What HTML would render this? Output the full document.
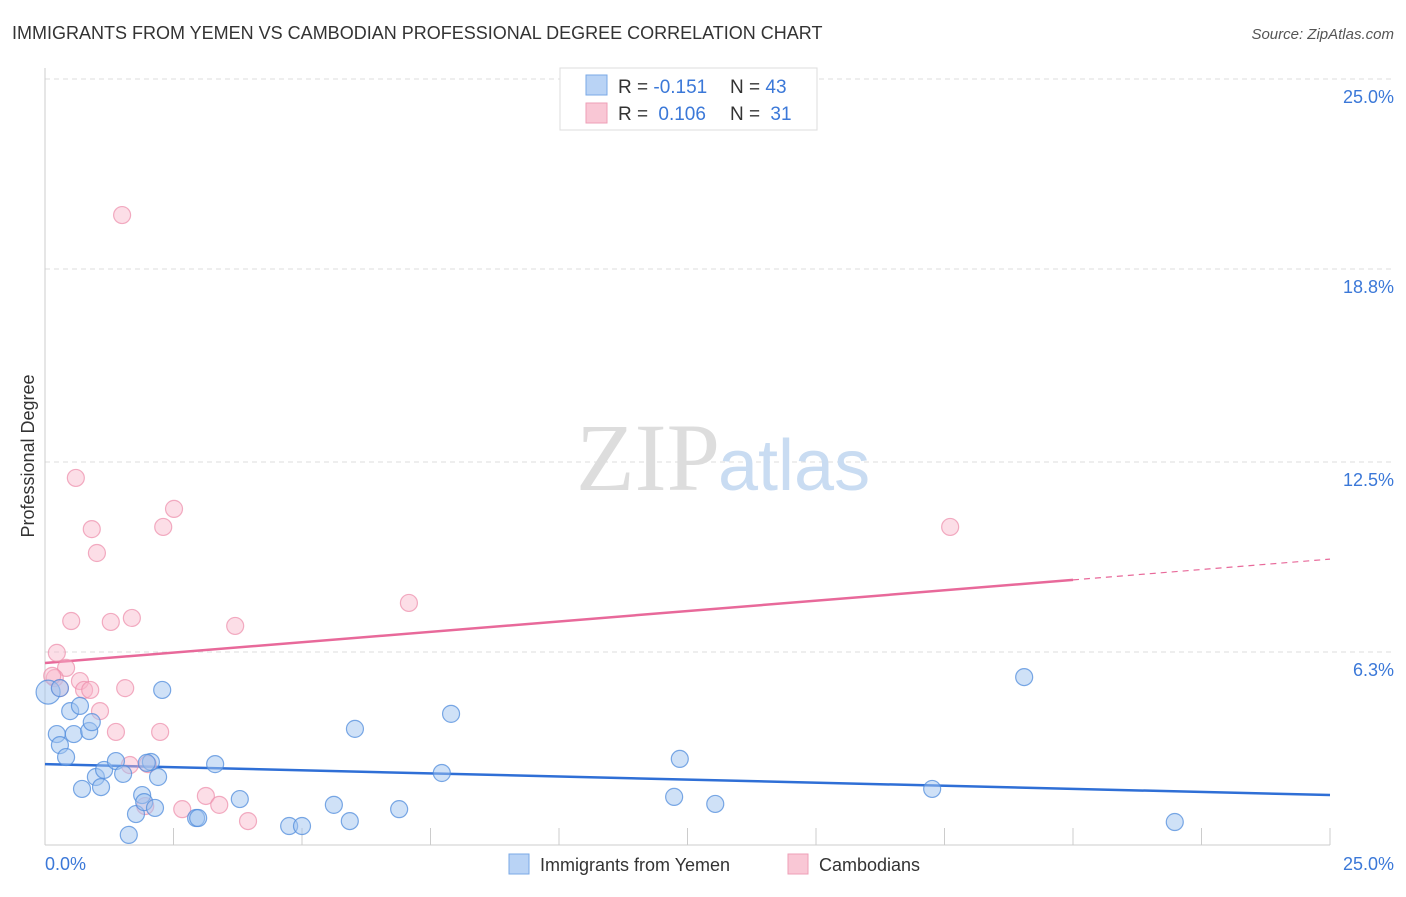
<!DOCTYPE html>
<html><head><meta charset="utf-8">
<style>
body{margin:0;background:#fff;font-family:"Liberation Sans",sans-serif;}
svg text{font-family:"Liberation Sans",sans-serif;}
</style></head>
<body>
<svg id="chart" width="1406" height="892" viewBox="0 0 1406 892" xmlns="http://www.w3.org/2000/svg">
<text x="12" y="39" font-size="18" fill="#333">IMMIGRANTS FROM YEMEN VS CAMBODIAN PROFESSIONAL DEGREE CORRELATION CHART</text>
<text x="1394" y="39" font-size="15" fill="#555" font-style="italic" text-anchor="end">Source: ZipAtlas.com</text>
<g id="grid"></g>
<g id="axes"></g>
<text x="720" y="490" font-size="96" fill="#ddd" text-anchor="end" font-family="Liberation Serif" style="font-family:'Liberation Serif',serif">ZIP</text>
<text x="718" y="490" font-size="72" fill="#c9dcf2">atlas</text>
<g id="trends"></g>
<g id="points"></g>
<text transform="translate(34,456) rotate(-90)" font-size="18" fill="#333" text-anchor="middle">Professional Degree</text>
<text x="45" y="870" font-size="18" fill="#3b78d8">0.0%</text>
<text x="1394" y="870" font-size="18" fill="#3b78d8" text-anchor="end">25.0%</text>
<g>
<rect x="560" y="68" width="257" height="62" fill="#fff" stroke="#ddd"/>
<rect x="586" y="75" width="21" height="20" fill="#b9d3f5" stroke="#7aa8e6"/>
<rect x="586" y="103" width="21" height="20" fill="#f9c7d5" stroke="#ee9fb7"/>
<text x="618" y="93" font-size="19" fill="#333">R = <tspan fill="#3b78d8">-0.151</tspan></text>
<text x="730" y="93" font-size="19" fill="#333">N = <tspan fill="#3b78d8">43</tspan></text>
<text x="618" y="120" font-size="19" fill="#333">R = <tspan fill="#3b78d8" dx="5">0.106</tspan></text>
<text x="730" y="120" font-size="19" fill="#333">N = <tspan fill="#3b78d8" dx="5">31</tspan></text>
</g>
<g>
<rect x="509" y="854" width="20" height="20" fill="#b9d3f5" stroke="#7aa8e6"/>
<text x="540" y="871" font-size="18" fill="#333">Immigrants from Yemen</text>
<rect x="788" y="854" width="20" height="20" fill="#f9c7d5" stroke="#ee9fb7"/>
<text x="819" y="871" font-size="18" fill="#333">Cambodians</text>
</g>
</svg>
<script>
const yTicks=[6.3,12.5,18.8,25.0];
const yTickLabels=["6.3%","12.5%","18.8%","25.0%"];
const yemenX=[0.06,0.23,0.29,0.41,0.49,0.56,0.72,0.68,0.86,0.91,0.99,1.09,1.15,1.38,1.52,1.63,1.77,1.89,1.93,2.06,2.14,2.20,2.28,2.94,2.98,3.31,3.79,4.75,5.00,5.62,5.93,6.03,6.89,7.72,7.90,12.24,12.35,13.04,17.26,19.05,21.98,1.98,0.29];
const yemenY=[4.99,3.62,3.26,2.87,4.37,3.62,1.83,4.54,3.72,4.01,2.22,1.89,2.45,2.74,2.32,0.33,1.01,1.63,1.40,2.71,1.21,2.22,5.06,0.88,0.88,2.64,1.50,0.62,0.62,1.31,0.78,3.79,1.17,2.35,4.28,1.57,2.81,1.34,1.83,5.48,0.75,2.68,5.12];
const cambX=[1.50,0.60,0.91,1.01,2.30,2.51,0.51,1.28,1.69,3.70,7.08,17.61,0.23,0.41,0.19,0.68,0.76,0.88,0.29,1.56,1.07,1.38,2.24,1.65,2.00,2.67,3.13,3.39,3.95,1.95,0.14];
const cambY=[20.56,11.98,10.31,9.53,10.38,10.97,7.31,7.28,7.41,7.15,7.90,10.38,6.27,5.78,5.45,5.35,5.06,5.06,5.12,5.12,4.37,3.69,3.69,2.61,2.64,1.17,1.60,1.31,0.78,1.27,5.52];
const yemenTrend=[2.64,1.63];
const cambTrend=[5.94,9.33];
const cambSolidEnd=20.0;
const X0=45,X1=1330,Y0=845,Y1=79;
const sx=v=>X0+v/25*(X1-X0);
const sy=v=>Y0-v/25*(Y0-Y1);
const NS="http://www.w3.org/2000/svg";
function mk(t,a,p){const e=document.createElementNS(NS,t);for(const k in a)e.setAttribute(k,a[k]);p.appendChild(e);return e;}
const grid=document.getElementById('grid'),axes=document.getElementById('axes');
yTicks.forEach((v,i)=>{
 const l=mk('line',{x1:X0,x2:1394,y1:sy(v),y2:sy(v),stroke:'#ddd','stroke-dasharray':'5,4'},grid);
 
 
 const t=mk('text',{x:1394,y:sy(v)+24,'font-size':18,fill:'#3b78d8','text-anchor':'end'},grid);
 t.textContent=yTickLabels[i];
 
 
});
const ax=mk('line',{x1:X0,x2:X1,y1:Y0,y2:Y0,stroke:'#ccc'},axes);


const ay=mk('line',{x1:X0,x2:X0,y1:68,y2:Y0,stroke:'#ccc'},axes);


for(let i=0;i<=10;i++){
 const x=sx(i*2.5);
 const t=mk('line',{x1:x,x2:x,y1:828,y2:Y0,stroke:'#ccc'},axes);
 
 
}
const tr=document.getElementById('trends');
const lb=mk('line',{x1:sx(0),y1:sy(yemenTrend[0]),x2:sx(25),y2:sy(yemenTrend[1]),stroke:'#2f6fd6','stroke-width':2.5},tr);


const cy=x=>cambTrend[0]+(cambTrend[1]-cambTrend[0])*x/25;
const lp=mk('line',{x1:sx(0),y1:sy(cy(0)),x2:sx(cambSolidEnd),y2:sy(cy(cambSolidEnd)),stroke:'#e8699a','stroke-width':2.5},tr);


const lpd=mk('line',{x1:sx(cambSolidEnd),y1:sy(cy(cambSolidEnd)),x2:sx(25),y2:sy(cy(25)),stroke:'#e8699a','stroke-width':1.2,'stroke-dasharray':'6,5'},tr);


const pts=document.getElementById('points');
cambX.forEach((x,i)=>{
 const c=mk('circle',{cx:sx(x),cy:sy(cambY[i]),r:8.5,fill:'rgba(248,182,202,0.45)',stroke:'rgba(236,140,170,0.7)','stroke-width':1.2},pts);
 
 
});
yemenX.forEach((x,i)=>{
 const c=mk('circle',{cx:sx(x),cy:sy(yemenY[i]),r:i===0?12:8.5,fill:'rgba(160,196,240,0.5)',stroke:'rgba(80,140,220,0.75)','stroke-width':1.2},pts);
 
 
});
</script>
</body></html>
